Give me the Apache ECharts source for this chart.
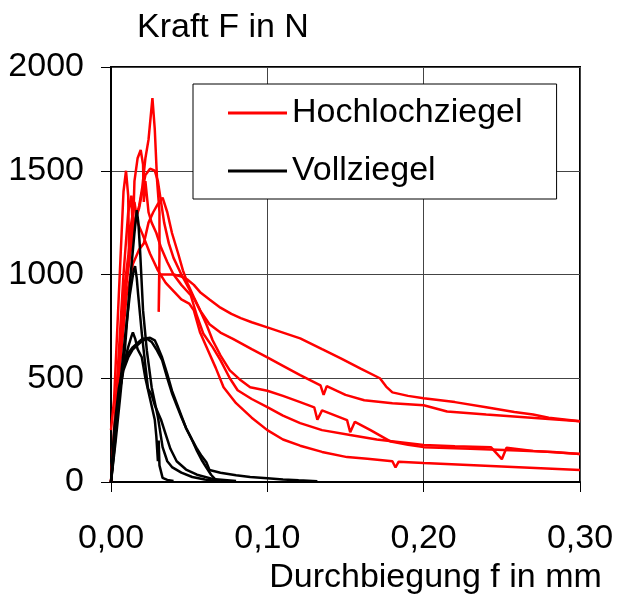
<!DOCTYPE html>
<html>
<head>
<meta charset="utf-8">
<script src="https://cdn.jsdelivr.net/npm/echarts@6/dist/echarts.min.js"></script>
<style>html,body{margin:0;padding:0;background:#fff;}#chart{width:617px;height:595px;}</style>
</head>
<body>
<div id="chart"></div>
<script>
var xTicks = [0, 0.10, 0.20, 0.30];
var yTicks = [0, 500, 1000, 1500, 2000];
var groupNames = ['Hochlochziegel', 'Vollziegel'];

// Hochlochziegel curves: [Durchbiegung mm, Kraft N]
var hoch1 = [[0,0],[0.003,300],[0.006,620],[0.009,900],[0.012,1080],[0.015,1250],[0.018,1330],[0.02,1420],[0.022,1560],[0.024,1650],[0.0265,1850],[0.028,1700],[0.0295,1450],[0.031,1300],[0.031,1100],[0.0305,820],[0.031,1000],[0.035,1000],[0.04,1000],[0.045,990],[0.049,975],[0.053,950],[0.057,915],[0.063,880],[0.07,840],[0.077,810],[0.083,790],[0.09,770],[0.1,745],[0.11,720],[0.121,692],[0.135,640],[0.147,596],[0.16,545],[0.172,500],[0.176,460],[0.18,432],[0.19,415],[0.2,404],[0.22,385],[0.24,360],[0.258,337],[0.27,325],[0.28,310],[0.3,293]];
var hoch2 = [[0,0],[0.004,500],[0.008,1000],[0.011,1300],[0.013,1380],[0.014,1200],[0.015,1450],[0.017,1560],[0.019,1600],[0.0205,1530],[0.021,1350],[0.022,1450],[0.024,1300],[0.026,1250],[0.029,1200],[0.032,1130],[0.036,1060],[0.04,1000],[0.045,950],[0.051,900],[0.055,800],[0.059,716],[0.065,650],[0.07,587],[0.076,500],[0.081,442],[0.09,400],[0.1,361],[0.11,320],[0.121,284],[0.135,250],[0.153,226],[0.17,205],[0.2,178],[0.22,172],[0.243,168],[0.25,110],[0.253,165],[0.27,150],[0.3,135]];
var hoch3 = [[0,250],[0.002,400],[0.005,900],[0.008,1400],[0.0096,1500],[0.011,1380],[0.0115,1100],[0.013,1250],[0.015,1350],[0.017,1250],[0.02,1197],[0.025,1100],[0.03,1020],[0.035,960],[0.04,920],[0.045,880],[0.05,860],[0.053,827],[0.057,720],[0.062,635],[0.067,550],[0.072,457],[0.08,380],[0.09,310],[0.1,250],[0.11,205],[0.121,175],[0.135,145],[0.151,120],[0.164,112],[0.18,100],[0.182,70],[0.184,98],[0.2,91],[0.25,75],[0.3,58]];
var hoch4 = [[0,0],[0.004,450],[0.008,900],[0.012,1150],[0.015,1250],[0.018,1320],[0.02,1400],[0.022,1480],[0.025,1510],[0.028,1500],[0.03,1450],[0.032,1350],[0.034,1250],[0.037,1150],[0.04,1080],[0.045,1000],[0.05,930],[0.057,827],[0.063,760],[0.07,720],[0.078,690],[0.09,640],[0.1,601],[0.11,560],[0.121,515],[0.134,466],[0.136,420],[0.138,462],[0.15,420],[0.162,394],[0.18,380],[0.2,370],[0.215,340],[0.24,325],[0.26,315],[0.3,293]];
var hoch5 = [[0,0],[0.005,500],[0.01,900],[0.014,1050],[0.018,1120],[0.021,1150],[0.024,1250],[0.027,1300],[0.03,1340],[0.033,1370],[0.036,1300],[0.039,1200],[0.043,1100],[0.046,1020],[0.049,957],[0.053,890],[0.057,827],[0.061,760],[0.065,683],[0.07,610],[0.076,538],[0.083,490],[0.089,457],[0.1,440],[0.11,415],[0.121,385],[0.13,360],[0.132,300],[0.135,345],[0.151,298],[0.153,240],[0.156,290],[0.166,250],[0.179,195],[0.19,180],[0.2,168],[0.23,160],[0.26,152],[0.283,144],[0.3,135]];

// Vollziegel curves
var voll1 = [[0,0],[0.003,200],[0.006,420],[0.009,650],[0.011,850],[0.013,1034],[0.015,1200],[0.0165,1310],[0.0175,1250],[0.0186,1115],[0.0205,827],[0.0229,635],[0.026,457],[0.03,313],[0.033,168],[0.036,100],[0.039,72],[0.045,45],[0.052,24],[0.06,12],[0.067,5]];
var voll2 = [[0,0],[0.003,250],[0.006,480],[0.009,700],[0.012,900],[0.0145,1020],[0.0154,1040],[0.0165,980],[0.0173,909],[0.0197,716],[0.022,560],[0.0237,450],[0.026,420],[0.028,370],[0.032,300],[0.035,230],[0.038,160],[0.042,100],[0.048,60],[0.055,35],[0.065,15],[0.08,5]];
var voll3 = [[0,0],[0.002,150],[0.005,400],[0.008,560],[0.011,650],[0.013,700],[0.014,721],[0.0155,690],[0.017,640],[0.0197,601],[0.022,500],[0.025,400],[0.028,300],[0.029,220],[0.03,100],[0.0305,200],[0.031,80],[0.033,20],[0.036,10],[0.04,5]];
var voll4 = [[0,0],[0.002,250],[0.005,450],[0.008,560],[0.011,620],[0.014,650],[0.017,670],[0.02,690],[0.0218,692],[0.025,695],[0.028,683],[0.03,650],[0.0327,600],[0.036,520],[0.039,440],[0.042,380],[0.045,320],[0.048,260],[0.052,200],[0.055,150],[0.058,106],[0.061,70],[0.064,35],[0.067,10],[0.07,3]];
var voll5 = [[0,0],[0.002,200],[0.005,420],[0.008,540],[0.011,600],[0.014,640],[0.017,660],[0.02,680],[0.023,690],[0.026,675],[0.029,640],[0.0327,587],[0.036,500],[0.039,428],[0.042,370],[0.045,313],[0.048,260],[0.052,202],[0.055,160],[0.058,125],[0.061,95],[0.063,58],[0.07,45],[0.08,33],[0.089,24],[0.1,18],[0.11,12],[0.12,8],[0.132,4]];

var hochCurves = [hoch1, hoch2, hoch3, hoch4, hoch5];
var vollCurves = [voll1, voll2, voll3, voll4, voll5];

var FONT = 'Liberation Sans, Arial, sans-serif';
var series = [];
hochCurves.forEach(function (c) {
  series.push({ name: groupNames[0], type: 'line', data: c, showSymbol: false, symbol: 'none',
    lineStyle: { color: '#ff0000', width: 2.5 }, itemStyle: { color: '#ff0000' }, z: 2 });
});
vollCurves.forEach(function (c) {
  series.push({ name: groupNames[1], type: 'line', data: c, showSymbol: false, symbol: 'none',
    lineStyle: { color: '#000000', width: 2.5 }, itemStyle: { color: '#000000' }, z: 3 });
});

var chart = echarts.init(document.getElementById('chart'), null, { renderer: 'canvas' });
chart.setOption({
  animation: false,
  backgroundColor: '#ffffff',
  grid: { left: 111, right: 37, top: 67, bottom: 113, show: true, borderColor: '#000', borderWidth: 2,
    containLabel: false, outerBoundsMode: 'none' },
  legend: {
    data: groupNames, orient: 'vertical', left: 193, top: 84,
    padding: [12, 34, 11, 35], itemGap: 24, itemWidth: 59, itemHeight: 3, icon: 'rect',
    backgroundColor: '#fff', borderColor: '#000', borderWidth: 1, selectedMode: false,
    textStyle: { fontFamily: FONT, fontSize: 34, color: '#000' }
  },
  xAxis: {
    type: 'value', min: xTicks[0], max: xTicks[xTicks.length - 1], interval: 0.10,
    name: 'Durchbiegung f in mm', nameLocation: 'middle', nameGap: 78,
    nameTextStyle: { fontFamily: FONT, fontSize: 34, color: '#000', padding: [0, 0, 0, 180] },
    axisLine: { show: true, lineStyle: { color: '#000', width: 2 } },
    axisTick: { show: true, inside: false, length: 10, lineStyle: { color: '#000', width: 1 } },
    axisLabel: { fontFamily: FONT, fontSize: 34, color: '#000', margin: 40,
      formatter: function (v) { return v.toFixed(2).replace('.', ','); } },
    splitLine: { show: true, lineStyle: { color: '#444', width: 1 } }
  },
  yAxis: {
    type: 'value', min: yTicks[0], max: yTicks[yTicks.length - 1], interval: 500,
    name: 'Kraft F in N', nameLocation: 'end', nameGap: 22,
    nameTextStyle: { fontFamily: FONT, fontSize: 34, color: '#000', align: 'left', padding: [0, 0, 0, 26] },
    axisLine: { show: true, lineStyle: { color: '#000', width: 2 } },
    axisTick: { show: true, inside: false, length: 10, lineStyle: { color: '#000', width: 1 } },
    axisLabel: { fontFamily: FONT, fontSize: 34, color: '#000', margin: 27,
      formatter: function (v) { return String(v); } },
    splitLine: { show: true, lineStyle: { color: '#444', width: 1 } }
  },
  series: series
});
</script>
</body>
</html>
